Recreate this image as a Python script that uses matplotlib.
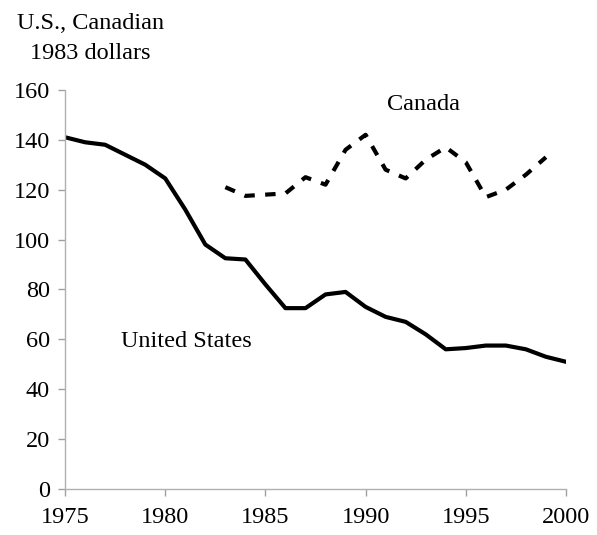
import matplotlib
matplotlib.use("Agg")
from matplotlib import pyplot as plt

years_us = list(range(1975, 2001))
us_values = [141, 139, 138, 134, 130, 124.5, 112, 98, 92.5, 92, 82, 72.5, 72.5,
             78, 79, 73, 69, 67, 62, 56, 56.5, 57.5, 57.5, 56, 53, 51]

years_ca = list(range(1983, 2000))
ca_values = [121, 117.5, 118, 118.5, 125, 122, 136, 142, 128, 124.5, 132, 137,
             131, 117, 120, 126, 133]

x_ticks = [1975, 1980, 1985, 1990, 1995, 2000]
y_ticks = [0, 20, 40, 60, 80, 100, 120, 140, 160]

plt.rcParams['font.family'] = ['Liberation Serif', 'DejaVu Serif']
fs = 17.5

fig = plt.figure(figsize=(5.97, 5.35), dpi=100)
ax = fig.add_axes([0.109, 0.086, 0.839, 0.746])

ax.plot(years_us, us_values, color='black', linewidth=3, solid_joinstyle='round')
ax.plot(years_ca, ca_values, color='black', linewidth=3, linestyle=(0, (2.5, 2.5)))

ax.set_xlim(1975, 2000)
ax.set_ylim(0, 160)
ax.set_xticks(x_ticks)
ax.set_yticks(y_ticks)

for side in ['top', 'right']:
    ax.spines[side].set_visible(False)
for side in ['left', 'bottom']:
    ax.spines[side].set_color('#b0b0b0')
    ax.spines[side].set_linewidth(1)
    ax.spines[side].set_linestyle((0, (1, 1)))

ax.tick_params(axis='both', colors='#a0a0a0', length=5, width=1, labelsize=fs,
               labelcolor='black')
ax.tick_params(axis='x', pad=8)
ax.tick_params(axis='y', pad=6)

fig.text(0.028, 0.975, "U.S., Canadian", fontsize=fs, ha='left', va='top')
fig.text(0.05, 0.92, "1983 dollars", fontsize=fs, ha='left', va='top')

ax.text(1992.9, 154, "Canada", fontsize=fs, ha='center', va='center')
ax.text(1977.8, 59, "United States", fontsize=fs, ha='left', va='center')

plt.savefig("out.png", dpi=100)
plt.close()
